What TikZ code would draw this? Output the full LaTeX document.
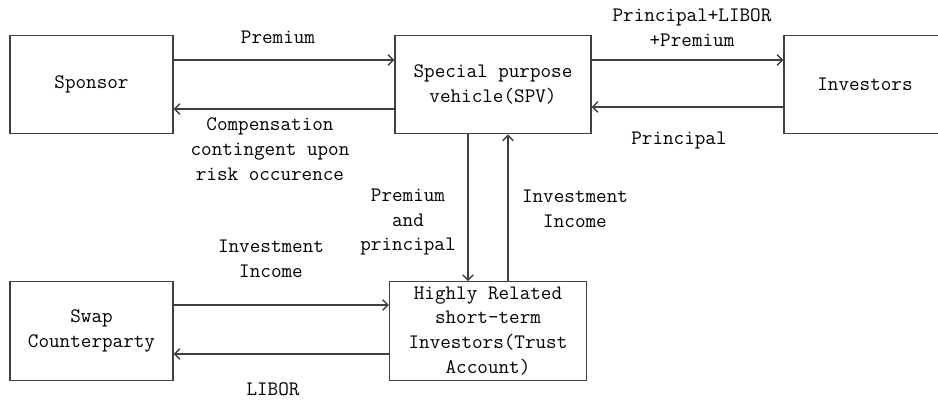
\documentclass[tikz,border=0pt]{standalone}
\usepackage{tikz}
\usetikzlibrary{positioning,calc,arrows.meta}

\begin{document}
\begin{tikzpicture}[x=0.02cm, y=-0.02cm, >={Straight Barb[length=3pt,width=6pt]}, every node/.style={font=\ttfamily\fontsize{11.7}{14.2}\selectfont, text=black}, box/.style={draw=black!75, line width=0.8pt, align=center, minimum height=1.97cm, inner sep=1pt}, flow/.style={->, draw=black!75, line width=0.8pt}, lbl/.style={align=center, inner sep=0pt}]

\clip (0,0) rectangle (938,403);

\node[box, minimum width=3.26cm] (sponsor) at (91.5,84.5) {Sponsor};
\node[box, minimum width=3.92cm] (spv) at (493,84.5) {Special purpose\\vehicle(SPV)};
\node[box, minimum width=3.24cm] (inv) at (865,84.5) {Investors};
\node[box, minimum width=3.26cm] (swap) at (91.5,331) {Swap\\Counterparty};
\node[box, minimum width=3.94cm] (trust) at (488,331) {Highly Related\\short-term\\Investors(Trust\\Account)};

\coordinate (down) at ($(spv.south)+(-25,0)$);
\coordinate (up) at ($(trust.north)+(20,0)$);

\draw[flow] ($(sponsor.east)+(0,-24.5)$) -- ($(spv.west)+(0,-24.5)$);
\draw[flow] ($(spv.west)+(0,24.5)$) -- ($(sponsor.east)+(0,24.5)$);
\draw[flow] ($(spv.east)+(0,-24.5)$) -- ($(inv.west)+(0,-24.5)$);
\draw[flow] ($(inv.west)+(0,22.5)$) -- ($(spv.east)+(0,22.5)$);
\draw[flow] (down) -- (down |- trust.north);
\draw[flow] (up) -- (up |- spv.south);
\draw[flow] ($(swap.east)+(0,-26)$) -- ($(trust.west)+(0,-26)$);
\draw[flow] ($(trust.west)+(0,23)$) -- ($(swap.east)+(0,23)$);

\node[lbl] (l1) at (278,37) {Premium};
\node[lbl] (l2) at (270,149) {Compensation\\contingent upon\\risk occurence};
\node[lbl] (l3) at (692,27.5) {Principal+LIBOR\\+Premium};
\node[lbl] (l4) at (679,140) {Principal};
\node[lbl] (l5) at (408,222) {Premium\\and\\principal};
\node[lbl] (l6) at (575,209) {Investment\\Income};
\node[lbl] (l7) at (271,259) {Investment\\Income};
\node[lbl] (l8) at (273,389) {LIBOR};
\end{tikzpicture}
\end{document}
